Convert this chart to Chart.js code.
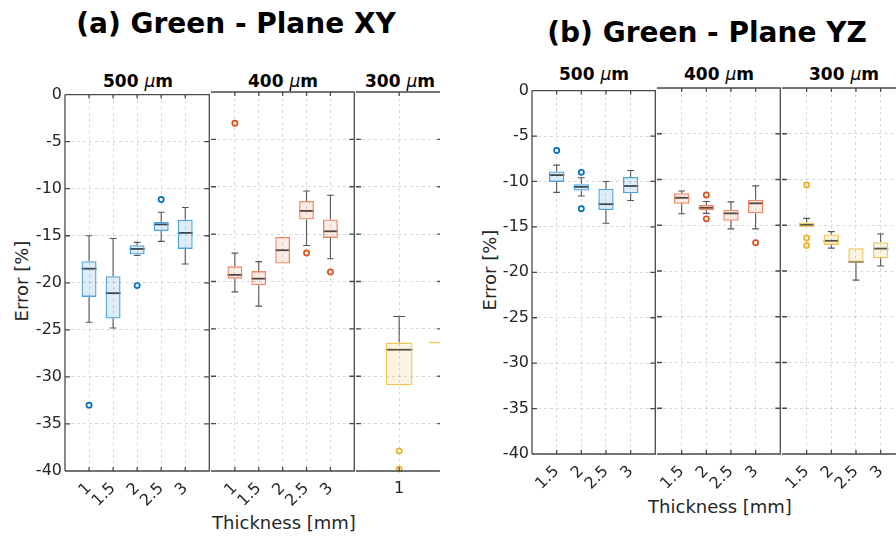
<!DOCTYPE html>
<html>
<head>
<meta charset="utf-8">
<script src="https://cdn.jsdelivr.net/npm/chart.js@4.4.1/dist/chart.umd.min.js"></script>
<style>
  body { margin: 0; width: 896px; height: 538px; background: #fff; overflow: hidden; font-family: "DejaVu Sans", sans-serif; }
  .panel { position: absolute; top: 0; height: 538px; overflow: hidden; }
  .lbl { position: absolute; white-space: nowrap; line-height: 1; color: #262626; }
  .ttl { font-size: 28px; font-weight: bold; color: #000; transform: translateX(-50%); }
  .sub { font-size: 17px; font-weight: bold; color: #000; transform: translateX(-50%); }
  .sub i { font-weight: normal; }
  .xl { font-size: 18px; transform: translateX(-50%); }
  .yl { font-size: 18px; transform: translate(-50%, -50%) rotate(-90deg); }
</style>
</head>
<body>
<div class="lbl ttl" style="left:236px;top:10px">(a) Green - Plane XY</div>
<div class="lbl ttl" style="left:707px;top:19px">(b) Green - Plane YZ</div>

<div class="lbl sub" style="left:138px;top:73px">500 <i>&mu;</i>m</div>
<div class="lbl sub" style="left:283px;top:73px">400 <i>&mu;</i>m</div>
<div class="lbl sub" style="left:400px;top:73px">300 <i>&mu;</i>m</div>
<div class="lbl sub" style="left:594px;top:66px">500 <i>&mu;</i>m</div>
<div class="lbl sub" style="left:719px;top:66px">400 <i>&mu;</i>m</div>
<div class="lbl sub" style="left:844px;top:66px">300 <i>&mu;</i>m</div>

<div class="lbl yl" style="left:22px;top:281px">Error [%]</div>
<div class="lbl yl" style="left:490px;top:270px">Error [%]</div>
<div class="lbl xl" style="left:284px;top:514px">Thickness [mm]</div>
<div class="lbl xl" style="left:720px;top:498px">Thickness [mm]</div>

<div class="panel" id="panelA" style="left:0;width:440px"></div>
<div class="panel" id="panelB" style="left:440px;width:456px"></div>

<script>
// axis ticks
const yTicks = [0, -5, -10, -15, -20, -25, -30, -35, -40];
const xTicksA = [1, 1.5, 2, 2.5, 3];
const xTicksB = [1.5, 2, 2.5, 3];
const xTicksA300 = [1];

// (a) Plane XY - 500 um
const xy500Pos = [1, 1.5, 2, 2.5, 3];
const xy500Min = [-24.2, -24.8, -17.1, -15.6, -18.0];
const xy500Q1  = [-21.5, -23.8, -17.0, -14.5, -16.4];
const xy500Med = [-18.5, -21.1, -16.4, -13.8, -14.7];
const xy500Q3  = [-17.7, -19.3, -16.0, -13.55, -13.3];
const xy500Max = [-15.0, -15.3, -15.7, -12.5, -12.0];
const xy500Out = [[-33.0], [], [-20.3], [-11.15], []];

// (a) Plane XY - 400 um
const xy400Pos = [1, 1.5, 2, 2.5, 3];
const xy400Min = [-21.1, -22.6, -18.1, -16.2, -17.6];
const xy400Q1  = [-19.7, -20.4, -18.1, -13.45, -15.4];
const xy400Med = [-19.3, -19.7, -16.7, -12.55, -14.7];
const xy400Q3  = [-18.4, -18.9, -15.3, -11.5, -13.45];
const xy400Max = [-17.0, -17.9, -15.3, -10.45, -10.9];
const xy400Out = [[-3.3], [], [], [-17.0], [-19.0]];

// (a) Plane XY - 300 um (second box is cut off at the edge)
const xy300Pos = [1, 1.5];
const xy300Min = [-30.95, -26.55];
const xy300Q1  = [-30.95, -26.55];
const xy300Med = [-27.2, null];
const xy300Q3  = [-26.45, -26.35];
const xy300Max = [-23.7, -26.35];
const xy300Out = [[-37.9, -39.8], []];

// (b) Plane YZ - 500 um
const yz500Pos = [1.5, 2, 2.5, 3];
const yz500Min = [-11.2, -11.6, -14.6, -12.1];
const yz500Q1  = [-10.05, -11.0, -13.15, -11.3];
const yz500Med = [-9.3, -10.6, -12.5, -10.5];
const yz500Q3  = [-8.9, -10.3, -10.8, -9.5];
const yz500Max = [-8.2, -9.6, -10.0, -8.8];
const yz500Out = [[-6.6], [-9.0, -13.0], [], []];

// (b) Plane YZ - 400 um
const yz400Pos = [1.5, 2, 2.5, 3];
const yz400Min = [-13.75, -13.7, -15.4, -15.4];
const yz400Q1  = [-12.65, -13.35, -14.5, -13.7];
const yz400Med = [-12.0, -13.1, -13.7, -12.6];
const yz400Q3  = [-11.5, -12.8, -13.3, -12.2];
const yz400Max = [-11.25, -12.4, -12.45, -10.7];
const yz400Out = [[], [-11.7, -14.3], [], [-16.9]];

// (b) Plane YZ - 300 um
const yz300Pos = [1.5, 2, 2.5, 3];
const yz300Min = [-15.2, -17.5, -21.0, -19.45];
const yz300Q1  = [-15.2, -17.15, -19.1, -18.6];
const yz300Med = [-14.95, -16.7, -19.0, -17.55];
const yz300Q3  = [-14.7, -16.0, -17.5, -16.85];
const yz300Max = [-14.25, -15.7, -17.5, -15.95];
const yz300Out = [[-10.6, -16.4, -17.2], [], [], []];

const blue   = { edge: 'rgb(77,163,224)',  fill: 'rgba(0,114,189,0.13)',  out: '#0072BD' };
const orange = { edge: 'rgb(238,135,100)', fill: 'rgba(217,83,25,0.11)',  out: '#D95319' };
const yellow = { edge: 'rgb(242,196,85)',  fill: 'rgba(237,177,32,0.14)', out: '#EDB120' };

const gridCol = 'rgba(38,38,38,0.17)';

// whiskers, medians and the MATLAB-like frame with inward ticks
function boxPlugin(s) {
  return {
    id: 'boxStats',
    beforeDatasetsDraw(chart) {
      const { ctx, scales: { x, y } } = chart;
      ctx.save();
      ctx.strokeStyle = '#555';
      ctx.lineWidth = 1.1;
      s.pos.forEach((p, i) => {
        const px = x.getPixelForValue(p);
        const c0 = x.getPixelForValue(p - 0.07), c1 = x.getPixelForValue(p + 0.07);
        const yMax = y.getPixelForValue(s.max[i]), yQ3 = y.getPixelForValue(s.q3[i]);
        const yMin = y.getPixelForValue(s.min[i]), yQ1 = y.getPixelForValue(s.q1[i]);
        ctx.beginPath();
        if (s.max[i] > s.q3[i]) {
          ctx.moveTo(px, yQ3); ctx.lineTo(px, yMax);
          ctx.moveTo(c0, yMax); ctx.lineTo(c1, yMax);
        }
        if (s.min[i] < s.q1[i]) {
          ctx.moveTo(px, yQ1); ctx.lineTo(px, yMin);
          ctx.moveTo(c0, yMin); ctx.lineTo(c1, yMin);
        }
        ctx.stroke();
      });
      ctx.strokeStyle = '#444';
      ctx.lineWidth = 1.8;
      s.pos.forEach((p, i) => {
        if (s.med[i] === null) return;
        const m = y.getPixelForValue(s.med[i]);
        ctx.beginPath();
        ctx.moveTo(x.getPixelForValue(p - 0.155), m);
        ctx.lineTo(x.getPixelForValue(p + 0.155), m);
        ctx.stroke();
      });
      ctx.restore();
    },
    afterDatasetsDraw(chart) {
      const { ctx, chartArea: a, scales: { x, y } } = chart;
      ctx.save();
      ctx.strokeStyle = '#4a4a4a';
      ctx.lineWidth = 1.3;
      ctx.beginPath();
      // the left edge is shared with the previous subplot, draw it only once
      if (s.showY) { ctx.moveTo(a.left, a.bottom); ctx.lineTo(a.left, a.top); }
      ctx.moveTo(a.left, a.top); ctx.lineTo(a.right, a.top);
      ctx.lineTo(a.right, a.bottom); ctx.lineTo(a.left, a.bottom);
      yTicks.forEach(v => {
        const py = y.getPixelForValue(v);
        ctx.moveTo(a.left, py); ctx.lineTo(a.left + 5, py);
        ctx.moveTo(a.right, py); ctx.lineTo(a.right - 5, py);
      });
      s.ticks.forEach(v => {
        const px = x.getPixelForValue(v);
        ctx.moveTo(px, a.bottom); ctx.lineTo(px, a.bottom - 4);
        ctx.moveTo(px, a.top); ctx.lineTo(px, a.top + 4);
      });
      ctx.stroke();
      ctx.restore();
    }
  };
}

function subplot(holder, box, s) {
  const wrap = document.createElement('div');
  wrap.style.position = 'absolute';
  wrap.style.left = (box.l - s.ml) + 'px';
  wrap.style.top = (box.t - s.mt) + 'px';
  wrap.style.width = (box.r - box.l + s.ml + s.mr) + 'px';
  wrap.style.height = (box.b - box.t + s.mt + s.mb) + 'px';
  const cv = document.createElement('canvas');
  wrap.appendChild(cv);
  holder.appendChild(wrap);

  const outliers = [];
  s.out.forEach((arr, i) => arr.forEach(v => outliers.push({ x: s.pos[i], y: v })));

  new Chart(cv, {
    type: 'bar',
    data: {
      datasets: [{
        type: 'bar',
        data: s.pos.map((p, i) => ({ x: p, y: [s.q1[i], s.q3[i]] })),
        backgroundColor: s.col.fill,
        borderColor: s.col.edge,
        borderWidth: 1.3,
        borderSkipped: false,
        barPercentage: 0.62,
        categoryPercentage: 1,
        order: 2
      }, {
        type: 'scatter',
        data: outliers,
        pointStyle: 'circle',
        pointRadius: 2.6,
        pointBorderWidth: 1.7,
        pointBorderColor: s.col.out,
        pointBackgroundColor: 'rgba(255,255,255,0)',
        clip: false,
        order: 1
      }]
    },
    options: {
      responsive: true,
      maintainAspectRatio: false,
      animation: false,
      devicePixelRatio: 1,
      layout: { padding: { left: 0, right: s.mr, top: s.mt, bottom: 0 } },
      plugins: { legend: { display: false }, tooltip: { enabled: false }, title: { display: false } },
      scales: {
        x: {
          type: 'linear',
          min: s.xMin,
          max: s.xMax,
          offset: false,
          afterBuildTicks: ax => { ax.ticks = s.ticks.map(v => ({ value: v })); },
          afterFit: ax => { ax.height = s.mb; },
          grid: { color: gridCol, lineWidth: 1, drawTicks: false, offset: false },
          border: { display: false, dash: [3, 3] },
          ticks: {
            color: '#262626',
            font: { family: 'DejaVu Sans', size: 16 },
            padding: 8,
            autoSkip: false,
            minRotation: s.rot,
            maxRotation: s.rot,
            callback: v => String(v)
          }
        },
        y: {
          min: -40,
          max: 0,
          afterBuildTicks: ax => { ax.ticks = yTicks.map(v => ({ value: v })); },
          afterFit: ax => { ax.width = s.ml; },
          grid: { color: gridCol, lineWidth: 1, drawTicks: false },
          border: { display: false, dash: [3, 3] },
          ticks: {
            display: s.showY,
            color: '#262626',
            font: { family: 'DejaVu Sans', size: 16 },
            padding: 3
          }
        }
      }
    },
    plugins: [boxPlugin(s)]
  });
}

const pA = document.getElementById('panelA');
const pB = document.getElementById('panelB');

// panel (a): plot area 92..471
subplot(pA, { l: 65, r: 211, t: 92, b: 471 }, {
  pos: xy500Pos, min: xy500Min, q1: xy500Q1, med: xy500Med, q3: xy500Q3, max: xy500Max, out: xy500Out,
  col: blue, ticks: xTicksA, xMin: 0.5, xMax: 3.5, rot: 45, showY: true, ml: 65, mr: 4, mt: 10, mb: 67
});
subplot(pA, { l: 211, r: 356, t: 92, b: 471 }, {
  pos: xy400Pos, min: xy400Min, q1: xy400Q1, med: xy400Med, q3: xy400Q3, max: xy400Max, out: xy400Out,
  col: orange, ticks: xTicksA, xMin: 0.5, xMax: 3.5, rot: 45, showY: false, ml: 30, mr: 4, mt: 10, mb: 67
});
subplot(pA, { l: 356, r: 444, t: 92, b: 471 }, {
  pos: xy300Pos, min: xy300Min, q1: xy300Q1, med: xy300Med, q3: xy300Q3, max: xy300Max, out: xy300Out,
  col: yellow, ticks: xTicksA300, xMin: 0.5, xMax: 1.5, rot: 0, showY: false, ml: 30, mr: 4, mt: 10, mb: 67
});

// panel (b): plot area 88..454, x offset 440 from container
subplot(pB, { l: 92, r: 217, t: 88, b: 454 }, {
  pos: yz500Pos, min: yz500Min, q1: yz500Q1, med: yz500Med, q3: yz500Q3, max: yz500Max, out: yz500Out,
  col: blue, ticks: xTicksB, xMin: 1, xMax: 3.5, rot: 45, showY: true, ml: 52, mr: 4, mt: 10, mb: 84
});
subplot(pB, { l: 217, r: 342, t: 88, b: 454 }, {
  pos: yz400Pos, min: yz400Min, q1: yz400Q1, med: yz400Med, q3: yz400Q3, max: yz400Max, out: yz400Out,
  col: orange, ticks: xTicksB, xMin: 1, xMax: 3.5, rot: 45, showY: false, ml: 30, mr: 4, mt: 10, mb: 84
});
subplot(pB, { l: 342, r: 467, t: 88, b: 454 }, {
  pos: yz300Pos, min: yz300Min, q1: yz300Q1, med: yz300Med, q3: yz300Q3, max: yz300Max, out: yz300Out,
  col: yellow, ticks: xTicksB, xMin: 1, xMax: 3.5, rot: 45, showY: false, ml: 30, mr: 4, mt: 10, mb: 84
});
</script>
</body>
</html>
